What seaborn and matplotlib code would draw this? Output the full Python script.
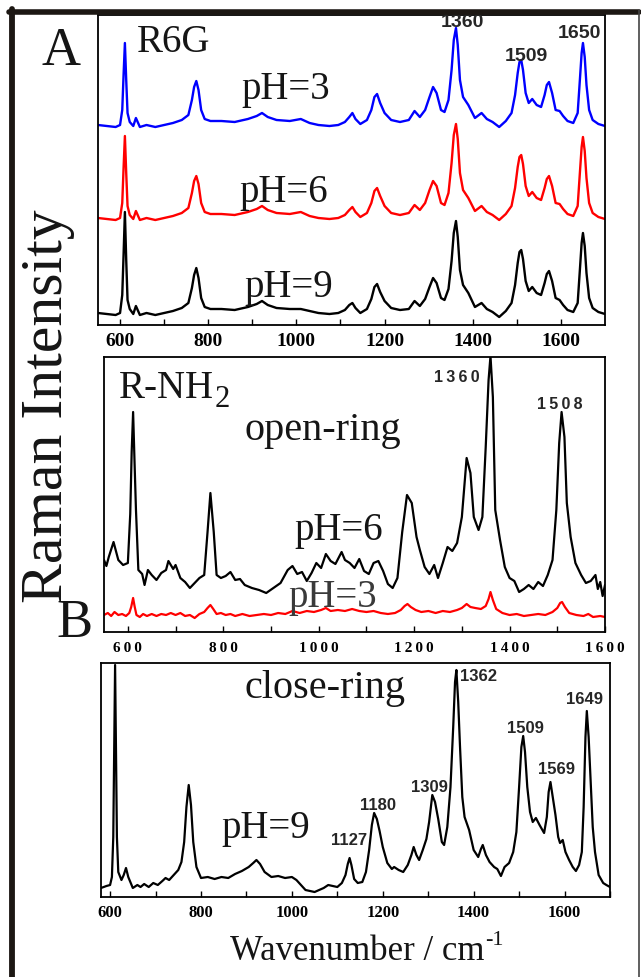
import numpy as np
import pandas as pd
import matplotlib
matplotlib.use("Agg")
import matplotlib.pyplot as plt
from matplotlib.lines import Line2D
import seaborn as sns

# ---------------- data ----------------
# Panel A: R6G at three pH values (intensity in arbitrary units, stacked)
wn_a = [550, 570, 590, 600, 605, 608, 611, 614, 617, 622, 630, 636, 645, 660, 680, 700, 720, 740, 755, 763,
        768, 773, 778, 784, 792, 805, 830, 860, 890, 910, 922, 935, 955, 985, 1010, 1030, 1050, 1075, 1095, 1110,
        1120, 1127, 1134, 1145, 1160, 1170, 1177, 1183, 1190, 1200, 1215, 1235, 1255, 1268, 1280, 1292, 1302, 1310, 1318, 1328,
        1336, 1345, 1352, 1357, 1362, 1366, 1371, 1378, 1390, 1405, 1420, 1432, 1445, 1460, 1475, 1488, 1496, 1502, 1506, 1510,
        1514, 1520, 1527, 1535, 1545, 1555, 1563, 1568, 1573, 1580, 1588, 1597, 1605, 1615, 1628, 1638, 1643, 1647, 1650, 1654,
        1658, 1664, 1672, 1685, 1700]
a_ph3 = [200, 199, 198, 200, 215, 250, 282, 245, 212, 203, 199, 207, 198, 200, 198, 200, 202, 205, 210, 225,
         238, 244, 235, 215, 206, 204, 204, 203, 206, 209, 212, 208, 205, 204, 206, 202, 200, 199, 200, 203,
         208, 212, 206, 201, 205, 215, 228, 231, 222, 212, 205, 203, 205, 214, 208, 215, 228, 238, 232, 215,
         213, 225, 255, 285, 297, 280, 245, 228, 220, 207, 212, 206, 203, 198, 204, 212, 230, 252, 263, 265,
         255, 232, 222, 226, 220, 218, 230, 240, 243, 232, 215, 214, 209, 204, 202, 212, 245, 272, 282, 268,
         240, 215, 205, 201, 199]
a_ph6 = [107, 106, 105, 107, 122, 157, 189, 152, 119, 110, 106, 114, 105, 107, 105, 107, 109, 112, 117, 132,
         144, 149, 141, 122, 113, 111, 111, 110, 113, 116, 119, 115, 112, 111, 113, 109, 107, 106, 107, 110,
         115, 118, 113, 108, 112, 122, 134, 137, 129, 119, 112, 110, 112, 120, 115, 122, 135, 144, 139, 122,
         120, 132, 162, 190, 201, 186, 152, 135, 127, 114, 119, 113, 110, 105, 111, 119, 137, 158, 168, 170,
         161, 139, 129, 133, 127, 125, 137, 146, 149, 139, 122, 121, 116, 111, 109, 119, 152, 178, 188, 174,
         147, 122, 112, 108, 106]
a_ph9 = [12, 11, 10, 12, 30, 70, 113, 65, 25, 16, 11, 19, 10, 12, 10, 12, 14, 17, 22, 37,
         50, 57, 47, 27, 18, 16, 16, 15, 18, 21, 24, 20, 17, 16, 16, 14, 12, 11, 12, 15,
         20, 22, 17, 12, 16, 26, 38, 41, 33, 24, 17, 15, 16, 24, 19, 26, 38, 47, 42, 27,
         25, 36, 64, 92, 104, 88, 55, 40, 32, 18, 22, 16, 13, 8, 14, 22, 40, 62, 73, 75,
         66, 44, 34, 38, 32, 30, 42, 51, 54, 44, 27, 25, 20, 15, 13, 22, 55, 82, 92, 79,
         52, 27, 17, 13, 11]

# Panel B: R-NH2 open-ring, pH=6 (black) and pH=3 (red)
wn_b6 = [550, 555, 560, 570, 580, 590, 600, 605, 608, 611, 614, 617, 622, 630, 635, 642, 650, 660, 670, 680,
         685, 695, 700, 710, 720, 730, 740, 750, 760, 767, 773, 780, 786, 795, 805, 815, 825, 835, 845, 860,
         875, 890, 905, 920, 935, 945, 955, 965, 975, 985, 995, 1005, 1015, 1025, 1035, 1048, 1055, 1065, 1075, 1085,
         1095, 1105, 1115, 1125, 1135, 1145, 1155, 1165, 1175, 1185, 1195, 1205, 1212, 1222, 1232, 1242, 1250, 1260, 1270, 1280,
         1290, 1300, 1310, 1318, 1325, 1335, 1343, 1350, 1356, 1360, 1365, 1370, 1380, 1390, 1400, 1410, 1420, 1430, 1440, 1450,
         1460, 1470, 1480, 1490, 1498, 1504, 1509, 1515, 1520, 1528, 1538, 1550, 1560, 1570, 1580, 1585, 1590, 1595, 1600]
b_ph6 = [72, 66, 75, 90, 72, 67, 69, 118, 180, 220, 170, 122, 62, 58, 47, 62, 57, 52, 59, 62,
         71, 63, 67, 54, 50, 44, 49, 54, 57, 100, 139, 100, 57, 54, 56, 60, 52, 53, 47, 44,
         42, 39, 44, 49, 62, 66, 58, 60, 51, 59, 69, 64, 78, 71, 68, 80, 72, 69, 64, 73,
         61, 58, 69, 71, 61, 48, 44, 54, 100, 137, 129, 95, 82, 65, 58, 67, 54, 69, 85, 81,
         89, 115, 174, 159, 115, 102, 115, 185, 252, 276, 235, 122, 92, 65, 54, 51, 40, 43, 47, 43,
         50, 46, 57, 72, 122, 189, 220, 195, 129, 95, 69, 57, 49, 51, 57, 43, 50, 36, 47]
wn_b3 = [550, 558, 565, 572, 580, 588, 596, 603, 607, 611, 614, 618, 625, 632, 640, 650, 660, 670, 680, 690,
         700, 710, 720, 730, 740, 750, 760, 767, 773, 779, 786, 795, 805, 815, 825, 840, 855, 870, 885, 900,
         915, 930, 945, 960, 975, 990, 1005, 1015, 1025, 1040, 1055, 1070, 1085, 1100, 1115, 1130, 1145, 1160, 1172, 1180,
         1186, 1193, 1203, 1215, 1230, 1245, 1260, 1275, 1290, 1300, 1310, 1318, 1328, 1340, 1350, 1356, 1360, 1365, 1372, 1385,
         1400, 1415, 1430, 1445, 1460, 1475, 1490, 1500, 1506, 1510, 1516, 1525, 1540, 1555, 1565, 1575, 1590, 1600]
b_ph3 = [17, 19, 16, 20, 17, 18, 16, 19, 25, 34, 26, 17, 15, 18, 16, 18, 16, 18, 17, 19,
         17, 19, 16, 17, 14, 18, 20, 24, 27, 23, 18, 19, 17, 18, 16, 18, 16, 17, 18, 17,
         19, 18, 21, 19, 21, 20, 22, 24, 21, 22, 21, 23, 21, 20, 21, 19, 18, 19, 22, 26,
         28, 25, 22, 20, 21, 19, 21, 20, 22, 24, 28, 25, 24, 23, 26, 33, 40, 32, 23, 19,
         17, 18, 16, 17, 18, 17, 20, 24, 29, 30, 25, 19, 17, 16, 18, 15, 16, 15]

# Panel C: close-ring, pH=9
wn_c = [580, 592, 600, 604, 607, 609, 611, 613, 615, 618, 625, 630, 635, 640, 650, 660, 667, 675, 685, 695,
        705, 715, 722, 730, 740, 750, 757, 763, 768, 773, 778, 783, 790, 800, 815, 830, 845, 860, 875, 890,
        905, 915, 922, 930, 940, 955, 970, 985, 1000, 1010, 1020, 1030, 1040, 1050, 1060, 1070, 1080, 1090, 1100, 1110,
        1118, 1123, 1127, 1131, 1137, 1145, 1155, 1163, 1170, 1176, 1181, 1187, 1193, 1200, 1210, 1220, 1225, 1235, 1245, 1255,
        1263, 1268, 1274, 1280, 1288, 1296, 1302, 1309, 1315, 1322, 1330, 1335, 1342, 1349, 1355, 1359, 1362, 1366, 1370, 1375,
        1380, 1390, 1400, 1410, 1416, 1420, 1427, 1435, 1445, 1452, 1460, 1468, 1478, 1487, 1494, 1500, 1505, 1509, 1513, 1518,
        1524, 1530, 1537, 1545, 1555, 1561, 1565, 1569, 1574, 1580, 1586, 1590, 1596, 1602, 1610, 1618, 1625, 1632, 1638, 1642,
        1646, 1649, 1653, 1657, 1662, 1667, 1675, 1685, 1692, 1700]
c_ph9 = [9, 11, 12, 20, 60, 150, 232, 150, 60, 25, 17, 22, 29, 20, 9, 12, 10, 13, 10, 14,
         12, 16, 19, 17, 22, 27, 35, 55, 90, 112, 92, 55, 30, 19, 20, 18, 20, 19, 23, 26,
         30, 34, 37, 33, 25, 20, 21, 19, 20, 17, 12, 7, 6, 5, 7, 9, 12, 11, 10, 14,
         22, 33, 39, 32, 18, 14, 15, 25, 47, 72, 84, 78, 66, 50, 34, 28, 30, 27, 25, 32,
         42, 50, 42, 37, 47, 58, 75, 102, 95, 78, 55, 52, 70, 110, 170, 215, 227, 195, 150, 100,
         80, 67, 47, 40, 48, 52, 42, 35, 30, 28, 21, 30, 34, 45, 65, 110, 150, 161, 145, 110,
         85, 75, 79, 72, 64, 80, 105, 115, 100, 82, 60, 54, 57, 45, 37, 30, 26, 32, 45, 90,
         160, 186, 160, 120, 70, 45, 22, 14, 12, 10]

ticks_main = [600, 800, 1000, 1200, 1400, 1600]
ticks_minor = [700, 900, 1100, 1300, 1500]
ticks_minor_c = [700, 900, 1100, 1300, 1500, 1700]
tick_labels = ["600", "800", "1000", "1200", "1400", "1600"]

peaks_a = [("1360", 1376, 298), ("1509", 1521, 264), ("1650", 1643, 287)]
peaks_b = [("1360", 1290, 250), ("1508", 1506, 223)]
peaks_c = [("1362", 1370, 216, "left"), ("1649", 1643, 193, "center"), ("1509", 1513, 164, "center"),
           ("1569", 1583, 123, "center"), ("1309", 1302, 105, "center"), ("1180", 1189, 87, "center"),
           ("1127", 1126, 52, "center")]

# ---------------- style ----------------
sns.set_style("ticks")
plt.rcParams["font.family"] = ["Liberation Serif", "DejaVu Serif"]

W, H = 641, 977
fig = plt.figure(figsize=(W / 100, H / 100), dpi=100)
fig.patch.set_facecolor("white")


def rect(l, t, r, b):
    return [l / W, 1 - b / H, (r - l) / W, (b - t) / H]


def fx(x):
    return x / W


def fy(y):
    return 1 - y / H


serif = ["Liberation Serif", "DejaVu Serif"]
sans = ["Liberation Sans", "DejaVu Sans"]
TXT = "#151515"


def style_axes(ax, xlim, ylim, minors, lab_size, pad, spaced=False):
    ax.set_xlim(*xlim)
    ax.set_ylim(*ylim)
    ax.set_yticks([])
    ax.set_xticks(ticks_main)
    ax.set_xticks(minors, minor=True)
    labs = tick_labels
    if spaced:
        labs = ["\u2009".join(list(t)) for t in tick_labels]
    ax.set_xticklabels(labs, fontsize=lab_size, fontweight="bold", family=serif)
    ax.tick_params(axis="x", which="both", direction="in", length=4, width=1.0,
                   pad=pad, colors="black", top=False)
    ax.tick_params(axis="y", left=False, right=False)
    for s in ax.spines.values():
        s.set_linewidth(1.3)
        s.set_color("black")
        s.set_visible(True)
    ax.set_xlabel("")
    ax.set_ylabel("")


# Panel A
axA = fig.add_axes(rect(98, 15, 605, 325))
dfa = pd.DataFrame({"wn": wn_a, "ph3": a_ph3, "ph6": a_ph6, "ph9": a_ph9})
sns.lineplot(data=dfa, x="wn", y="ph3", ax=axA, color="#0000ff", lw=1.7, estimator=None, sort=False)
sns.lineplot(data=dfa, x="wn", y="ph6", ax=axA, color="#ff0000", lw=1.7, estimator=None, sort=False)
sns.lineplot(data=dfa, x="wn", y="ph9", ax=axA, color="black", lw=1.7, estimator=None, sort=False)
style_axes(axA, (550, 1700), (0, 310), ticks_minor, 14, 6)
for lab, x, y in peaks_a:
    axA.text(x, y, lab, fontsize=14, fontweight="bold", family=sans, ha="center", va="baseline")

# Panel B
axB = fig.add_axes(rect(104, 357, 605, 632))
dfb6 = pd.DataFrame({"wn": wn_b6, "I": b_ph6})
dfb3 = pd.DataFrame({"wn": wn_b3, "I": b_ph3})
sns.lineplot(data=dfb6, x="wn", y="I", ax=axB, color="black", lw=1.6, estimator=None, sort=False)
sns.lineplot(data=dfb3, x="wn", y="I", ax=axB, color="#ff0000", lw=1.6, estimator=None, sort=False)
style_axes(axB, (550, 1600), (0, 275), ticks_minor, 11, 7, spaced=True)
for lab, x, y in peaks_b:
    axB.text(x, y, "\u2009".join(list(lab)), fontsize=11.5, fontweight="bold", family=sans,
             ha="center", va="baseline")

# Panel C
axC = fig.add_axes(rect(101, 663, 610, 897))
dfc = pd.DataFrame({"wn": wn_c, "I": c_ph9})
sns.lineplot(data=dfc, x="wn", y="I", ax=axC, color="black", lw=1.6, estimator=None, sort=False)
style_axes(axC, (580, 1700), (0, 234), ticks_minor_c, 12, 6)
for lab, x, y, ha in peaks_c:
    axC.text(x, y, lab, fontsize=12, fontweight="bold", family=sans, ha=ha, va="baseline")

# ---------------- figure texts ----------------
fig.text(fx(61), fy(65), "A", fontsize=39, family=serif, ha="center", va="baseline", color=TXT)
fig.text(fx(75), fy(637), "B", fontsize=39, family=serif, ha="center", va="baseline", color=TXT)
fig.text(fx(48), fy(406), "Raman Intensity", fontsize=43, family=serif, rotation=90,
         ha="center", va="center", color=TXT)
fig.text(fx(137), fy(52), "R6G", fontsize=28, family=serif, ha="left", va="baseline", color=TXT)
fig.text(fx(241), fy(99), "pH=3", fontsize=28, family=serif, ha="left", va="baseline", color=TXT)
fig.text(fx(239), fy(202), "pH=6", fontsize=28, family=serif, ha="left", va="baseline", color=TXT)
fig.text(fx(244), fy(297), "pH=9", fontsize=28, family=serif, ha="left", va="baseline", color=TXT)
rnh = fig.text(fx(119), fy(398), "R-NH", fontsize=28, family=serif, ha="left", va="baseline", color=TXT)
fig.text(fx(245), fy(440), "open-ring", fontsize=29, family=serif, ha="left", va="baseline", color=TXT)
fig.text(fx(294), fy(540), "pH=6", fontsize=28, family=serif, ha="left", va="baseline", color=TXT)
fig.text(fx(288), fy(607), "pH=3", fontsize=28, family=serif, ha="left", va="baseline", color="#3a3a3a")
fig.text(fx(245), fy(698), "close-ring", fontsize=29, family=serif, ha="left", va="baseline", color=TXT)
fig.text(fx(221), fy(838), "pH=9", fontsize=28, family=serif, ha="left", va="baseline", color=TXT)
wl = fig.text(fx(230), fy(960), "Wavenumber / cm", fontsize=25, family=serif,
              ha="left", va="baseline", color=TXT)

fig.canvas.draw()
rend = fig.canvas.get_renderer()
bb_r = rnh.get_window_extent(renderer=rend)
fig.text((bb_r.x1 + 1) / W, fy(407), "2", fontsize=22, family=serif, ha="left", va="baseline", color=TXT)
bb_w = wl.get_window_extent(renderer=rend)
fig.text((bb_w.x1 + 1) / W, fy(945), "-1", fontsize=16, family=serif, ha="left", va="baseline", color=TXT)

# outer frame
frame_col = "#1c1713"
fig.add_artist(Line2D([fx(12), fx(12)], [fy(9), fy(977)], color=frame_col, lw=4.2, transform=fig.transFigure))
fig.add_artist(Line2D([fx(9), fx(639)], [fy(12), fy(12)], color=frame_col, lw=4.0, transform=fig.transFigure))
fig.add_artist(Line2D([fx(639), fx(639)], [fy(10), fy(977)], color="#444444", lw=1.2, transform=fig.transFigure))

fig.savefig("out.png", dpi=100, facecolor="white")
